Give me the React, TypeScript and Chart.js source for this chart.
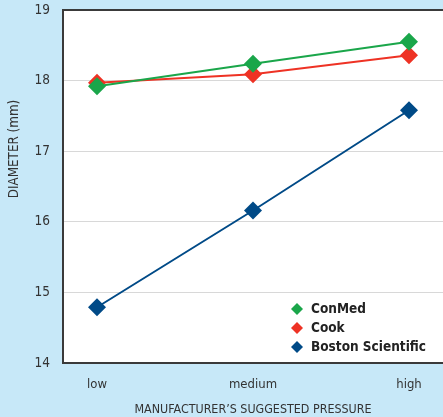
import React, { useEffect, useRef } from "react";
import { Chart, registerables } from "chart.js";

Chart.register(...registerables);

const categories = ["low", "medium", "high"];
const conMed = [17.92, 18.24, 18.55];
const cook = [17.97, 18.09, 18.36];
const boston = [14.79, 16.16, 17.58];
const yTicks = [14, 15, 16, 17, 18, 19];
const yTitle = "DIAMETER (mm)";
const xTitle = "MANUFACTURER\u2019S SUGGESTED PRESSURE";

const FONT = "'DejaVu Sans Condensed', 'Liberation Sans Narrow', 'DejaVu Sans', sans-serif";
const BG = "#c7e8f8";
const BORDER = "#3a3a3a";

const toPoints = (arr: number[]) => arr.map((v, i) => ({ x: i, y: v }));

const bgPlugin = {
  id: "bgPlugin",
  beforeDraw(chart: any) {
    const { ctx, chartArea } = chart;
    ctx.save();
    ctx.fillStyle = BG;
    ctx.fillRect(0, 0, chart.width, chart.height);
    ctx.fillStyle = "#ffffff";
    ctx.fillRect(chartArea.left, chartArea.top, chartArea.right - chartArea.left, chartArea.bottom - chartArea.top);
    ctx.restore();
  },
  afterDatasetsDraw(chart: any) {
    const { ctx, chartArea } = chart;
    ctx.save();
    ctx.strokeStyle = BORDER;
    ctx.lineWidth = 2;
    ctx.beginPath();
    ctx.moveTo(chartArea.right, chartArea.top);
    ctx.lineTo(chartArea.left, chartArea.top);
    ctx.lineTo(chartArea.left, chartArea.bottom);
    ctx.lineTo(chartArea.right, chartArea.bottom);
    ctx.stroke();
    ctx.restore();
  },
  afterDraw(chart: any) {
    const { ctx, chartArea } = chart;
    const ds = chart.data.datasets;
    ctx.save();
    ctx.font = "bold 13.5px " + FONT;
    ctx.textBaseline = "middle";
    const x0 = chartArea.right - 146;
    let y = chartArea.bottom - 54;
    ds.forEach((d: any) => {
      const r = 6;
      ctx.fillStyle = d.backgroundColor;
      ctx.beginPath();
      ctx.moveTo(x0, y - r);
      ctx.lineTo(x0 + r, y);
      ctx.lineTo(x0, y + r);
      ctx.lineTo(x0 - r, y);
      ctx.closePath();
      ctx.fill();
      ctx.fillStyle = "#222";
      ctx.fillText(d.label, x0 + 14, y);
      y += 19;
    });
    // y axis title
    ctx.translate(15, 149);
    ctx.rotate(-Math.PI / 2);
    ctx.font = "13.3px " + FONT;
    ctx.fillStyle = "#333";
    ctx.textAlign = "center";
    ctx.textBaseline = "middle";
    ctx.fillText(yTitle, 0, 0);
    ctx.restore();
  },
};

export default function App() {
  const ref = useRef<HTMLCanvasElement>(null);
  useEffect(() => {
    document.body.style.margin = "0";
    const mk = (label: string, data: number[], color: string) => ({
      label,
      data: toPoints(data),
      borderColor: color,
      backgroundColor: color,
      borderWidth: 2,
      pointStyle: "rectRot",
      pointRadius: 9,
      pointHoverRadius: 9,
      pointBorderWidth: 0,
      showLine: true,
      clip: false,
    });
    const chart = new Chart(ref.current!, {
      type: "scatter",
      data: {
        datasets: [
          mk("ConMed", conMed, "#1aa64a"),
          mk("Cook", cook, "#ee3224"),
          mk("Boston Scientific", boston, "#004a87"),
        ],
      },
      options: {
        animation: false,
        responsive: false,
        layout: { autoPadding: false, padding: { top: 10, right: 0, left: 0, bottom: 0 } },
        plugins: { legend: { display: false }, tooltip: { enabled: false } },
        scales: {
          x: {
            type: "linear",
            min: -0.218,
            max: 2.218,
            afterBuildTicks: (s: any) => {
              s.ticks = categories.map((_, i) => ({ value: i }));
            },
            afterFit: (s: any) => {
              s.height = 54;
              s.paddingLeft = 0;
              s.paddingRight = 0;
            },
            grid: { display: false, drawTicks: false },
            border: { display: false },
            ticks: {
              padding: 14,
              color: "#333",
              font: { family: FONT, size: 13 },
              callback: (v: any) => categories[v] ?? "",
            },
            title: {
              display: true,
              text: xTitle,
              color: "#333",
              font: { family: FONT, size: 12.4 },
              padding: { top: 7, bottom: 0 },
            },
          },
          y: {
            type: "linear",
            min: 14,
            max: 19,
            afterBuildTicks: (s: any) => {
              s.ticks = yTicks.map((v) => ({ value: v }));
            },
            afterFit: (s: any) => {
              s.width = 63;
              s.paddingTop = 0;
              s.paddingBottom = 0;
            },
            grid: {
              drawTicks: false,
              color: (c: any) => (c.tick && (c.tick.value === 14 || c.tick.value === 19) ? "rgba(0,0,0,0)" : "#d8d8d8"),
              lineWidth: 1,
            },
            border: { display: false },
            ticks: {
              padding: 13,
              color: "#333",
              font: { family: FONT, size: 13.5 },
            },
            title: { display: false },
          },
        },
      },
      plugins: [bgPlugin],
    } as any);
    return () => chart.destroy();
  }, []);
  return <canvas ref={ref} width={443} height={417} style={{ display: "block" }} />;
}
